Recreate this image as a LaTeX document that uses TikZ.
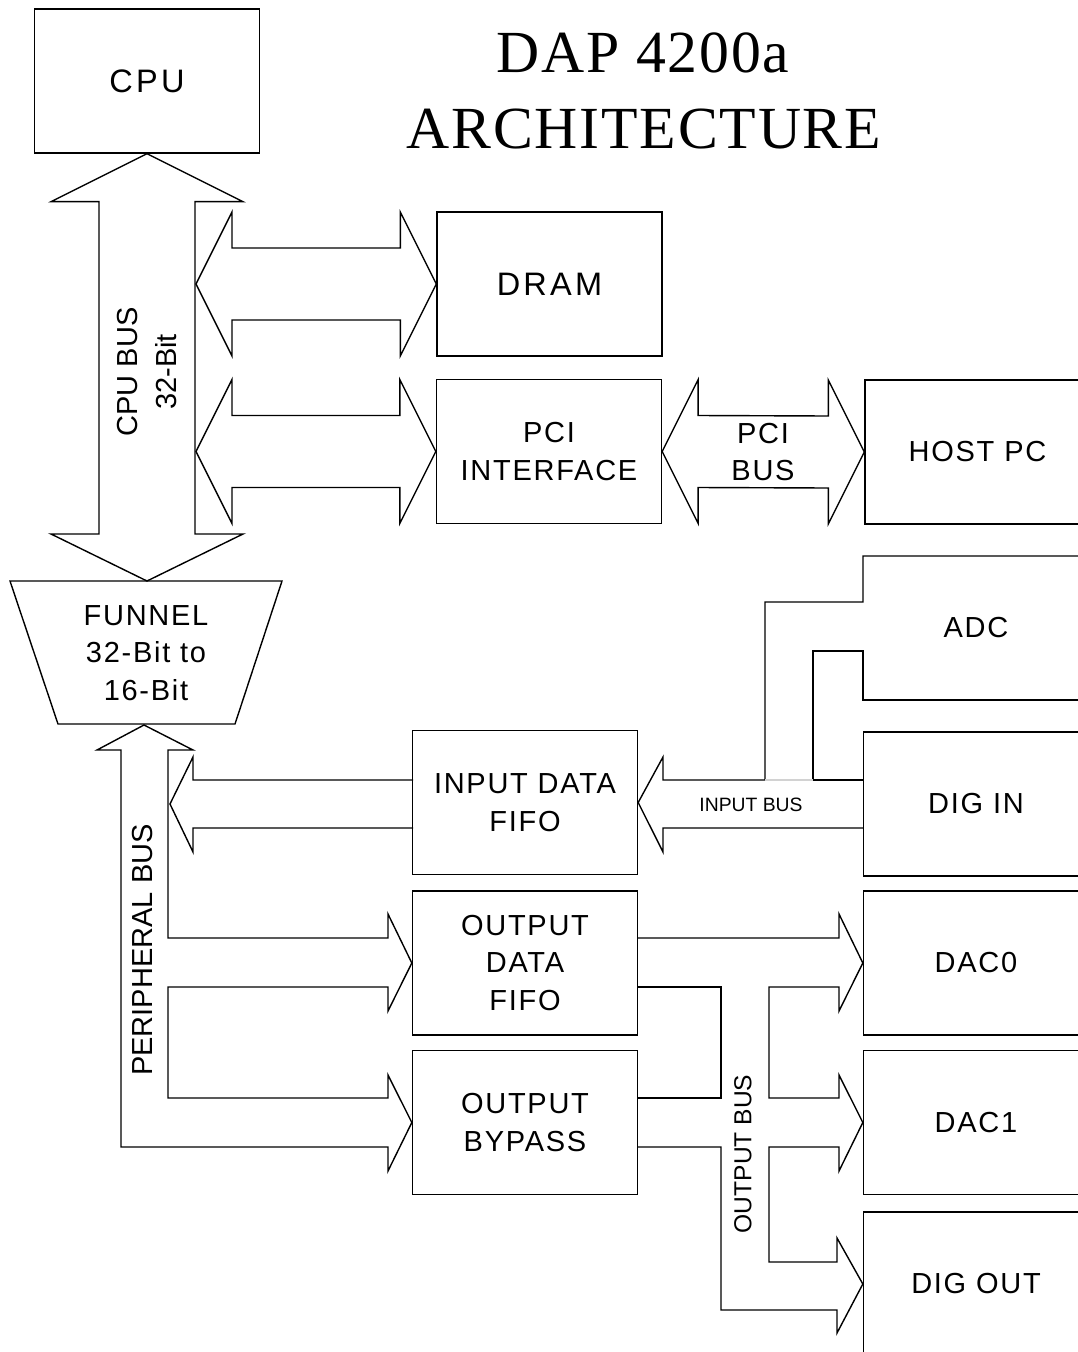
\documentclass[tikz,border=0pt]{standalone}
\usepackage{fontspec}
\setmainfont{Liberation Sans}
\newfontfamily\boxfont[LetterSpace=6]{Liberation Sans}
\newfontfamily\bigboxfont[LetterSpace=10]{Liberation Sans}
\newfontfamily\titlefont[LetterSpace=3]{Liberation Serif}
\usetikzlibrary{positioning,calc}

\tikzset{
  unit/.style={draw, line width=0.8pt, minimum width=4.5cm, minimum height=2.88cm,
    align=center, inner sep=0pt, font=\boxfont\fontsize{16.5}{21.5}\selectfont},
  bigunit/.style={unit, font=\bigboxfont\fontsize{18.5}{21.5}\selectfont},
  lbl/.style={align=center, inner sep=0pt, font=\boxfont\fontsize{16.5}{21.5}\selectfont},
  sidelbl/.style={align=center, inner sep=0pt, rotate=90, font=\fontsize{16.5}{22}\selectfont},
  titletxt/.style={inner sep=0pt, font=\titlefont\fontsize{34}{40}\selectfont},
  bus/.style={draw, line width=0.8pt, line join=miter},
}

% fat double arrow between two tips on one row
\newcommand{\hdbl}[2]{%
  \draw[bus] (#1) -- ++(36,-72) -- ++(0,36) -- ($(#2)+(-36,-36)$) -- ++(0,-36) -- (#2)
    -- ++(-36,72) -- ++(0,-36) -- ($(#1)+(36,36)$) -- ++(0,36) -- cycle;}

\begin{document}
\begin{tikzpicture}[x=0.02cm, y=-0.02cm]
  \useasboundingbox (0,0) rectangle (1078,1352);
  \clip (0,0) rectangle (1078,1352);

  % title
  \node[titletxt, anchor=base] (title1) at (643,72) {DAP 4200a};
  \node[titletxt, anchor=base] (title2) at (644,148) {ARCHITECTURE};

  % blocks
  \node[bigunit] (cpu) at (147,81) {CPU};
  \node[bigunit] (dram) at (549.5,284) {DRAM};
  \node[unit] (pci) at (549,451.5) {PCI\\INTERFACE};
  \node[unit] (host) at (977.5,452) {HOST PC};
  \node[unit, draw=none] (adc) at (976,628) {ADC};
  \node[unit] (digin) at (976,804) {DIG IN};
  \node[unit] (infifo) at (525,802.5) {INPUT DATA\\FIFO};
  \node[unit] (outfifo) at (525,963) {OUTPUT\\DATA\\FIFO};
  \node[unit] (bypass) at (525,1122.5) {OUTPUT\\BYPASS};
  \node[unit] (dac0) at (976,963) {DAC0};
  \node[unit] (dac1) at (976,1122.5) {DAC1};
  \node[unit] (digout) at (976,1284) {DIG OUT};

  % funnel
  \node[lbl] (funnel) at (146,653) {FUNNEL\\32-Bit to\\16-Bit};
  \draw[bus] (10,581) -- (282,581) -- (235,724) -- (58,724) -- cycle;
  \coordinate (ftop) at (147,581);

  % cpu bus
  \draw[bus] (cpu.south) -- ++(96,48) -- ++(-48,0) -- ($(ftop)+(48,-47)$) -- ++(48,0) -- (ftop)
    -- ++(-96,-47) -- ++(48,0) -- ($(cpu.south)+(-48,48)$) -- ++(-48,0) -- cycle;
  \node[sidelbl] (cpubuslbl) at (147,372) {CPU BUS\\32-Bit};
  \coordinate (dramL) at (196,284);
  \coordinate (pciL) at (196,451.5);
  \hdbl{dramL}{dram.west}
  \hdbl{pciL}{pci.west}

  % pci bus
  \hdbl{pci.east}{host.west}
  \node[lbl] (pcibuslbl) at (763,452) {PCI\\BUS};

  % peripheral bus
  \draw[bus] (121,1147) -- (121,750) -- (97,750) -- (144,725) -- (193,750) -- (168,750)
    -- (168,938) -- (388,938) -- (388,914) -- (outfifo.west) -- (388,1011) -- (388,987)
    -- (168,987) -- (168,1098) -- (388,1098) -- (388,1075) -- (bypass.west) -- (388,1171)
    -- (388,1147) -- cycle;
  \draw[bus] (413,780) -- (193,780) -- (193,757) -- (170,804) -- (193,852) -- (193,828) -- (413,828);
  \node[sidelbl] (periphlbl) at (143,950) {PERIPHERAL BUS};

  % input bus
  \draw[bus] (1095,556) -- (863,556) -- (863,602) -- (765,602) -- (765,780) -- (663,780)
    -- (663,757) -- (infifo.east) -- (663,852) -- (663,828) -- (863,828);
  \draw[bus] (1095,700) -- (863,700) -- (863,651) -- (813,651) -- (813,780) -- (863,780);
  \draw[gray!35, line width=0.6pt] (765,780) -- (813,780);
  \node[inner sep=0pt, font=\fontsize{11}{13}\selectfont] (inbuslbl) at (751,805) {INPUT BUS};

  % output bus
  \draw[bus] (637,938) -- (839,938) -- (839,914) -- (dac0.west) -- (839,1011) -- (839,987)
    -- (769,987) -- (769,1098) -- (839,1098) -- (839,1075) -- (dac1.west) -- (839,1171)
    -- (839,1147) -- (769,1147) -- (769,1262) -- (837,1262) -- (837,1238) -- (digout.west)
    -- (837,1333) -- (837,1310) -- (721,1310) -- (721,1147) -- (637,1147);
  \draw[bus] (637,987) -- (721,987) -- (721,1098) -- (637,1098);
  \node[inner sep=0pt, rotate=90, font=\fontsize{14}{16}\selectfont] (outbuslbl) at (743,1154) {OUTPUT BUS};
\end{tikzpicture}
\end{document}
